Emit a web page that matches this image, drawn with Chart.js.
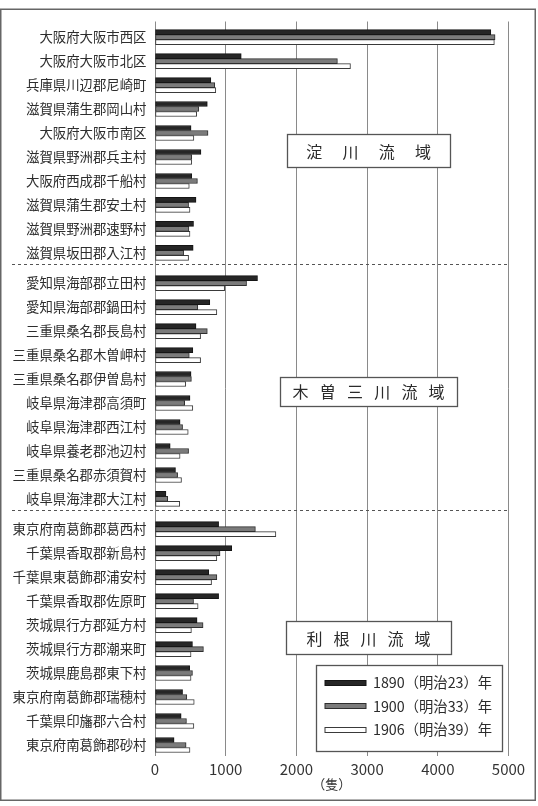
<!DOCTYPE html>
<html><head><meta charset="utf-8">
<script src="https://cdn.jsdelivr.net/npm/chart.js@4.4.1/dist/chart.umd.min.js"></script>
<style>html,body{margin:0;padding:0;background:#fff}#wrap{width:538px;height:806px;position:relative}</style>
</head><body><div id="wrap"><canvas id="c"></canvas></div>
<script>
const categories = [
  '大阪府大阪市西区','大阪府大阪市北区','兵庫県川辺郡尼崎町','滋賀県蒲生郡岡山村','大阪府大阪市南区',
  '滋賀県野洲郡兵主村','大阪府西成郡千船村','滋賀県蒲生郡安土村','滋賀県野洲郡速野村','滋賀県坂田郡入江村',
  '愛知県海部郡立田村','愛知県海部郡鍋田村','三重県桑名郡長島村','三重県桑名郡木曽岬村','三重県桑名郡伊曽島村',
  '岐阜県海津郡高須町','岐阜県海津郡西江村','岐阜県養老郡池辺村','三重県桑名郡赤須賀村','岐阜県海津郡大江村',
  '東京府南葛飾郡葛西村','千葉県香取郡新島村','千葉県東葛飾郡浦安村','千葉県香取郡佐原町','茨城県行方郡延方村',
  '茨城県行方郡潮来町','茨城県鹿島郡東下村','東京府南葛飾郡瑞穂村','千葉県印旛郡六合村','東京府南葛飾郡砂村'
];
const groupNames = ['淀川流域','木曽三川流域','利根川流域'];
const groupSizes = [10, 10, 10];
const seriesLabels = ['1890（明治23）年','1900（明治33）年','1906（明治39）年'];
const v1890 = [4750,1220,790,740,510,650,520,580,545,540, 1450,775,580,535,510,495,355,215,290,155, 900,1085,760,900,595,530,490,390,370,270];
const v1900 = [4810,2580,845,620,750,520,600,475,480,405, 1295,605,740,485,515,420,390,475,320,180, 1420,920,875,545,680,685,530,450,445,440];
const v1906 = [4800,2765,860,590,550,520,485,495,495,475, 985,875,645,645,435,535,470,355,375,350, 1710,875,800,610,515,510,510,555,550,495];
const xTicks = [0,1000,2000,3000,4000,5000];
const xUnit = '（隻）';

// layout constants
const GROUP_GAP = 0.26;
const CJK = "'Noto Sans CJK JP', sans-serif";
const NUMF = "'Liberation Sans Narrow', 'Noto Sans CJK JP', sans-serif";

// row positions on the index scale derived from group structure
const groupOf = [];
groupSizes.forEach((n, g) => { for (let k = 0; k < n; k++) groupOf.push(g); });
const rowPos = categories.map((_, i) => i + groupOf[i] * GROUP_GAP);
const groupRange = groupSizes.map((n, g) => {
  const idx = groupOf.map((gg, i) => gg === g ? i : -1).filter(i => i >= 0);
  return [idx[0], idx[idx.length - 1]];
});

const seriesValues = [v1890, v1900, v1906];
const fills = ['#262626', '#7b7b7b', '#ffffff'];
const borders = ['#151515', '#2e2e2e', '#3a3a3a'];

const datasets = seriesValues.map((vals, k) => ({
  label: seriesLabels[k],
  data: vals.map((v, i) => ({ x: v, y: rowPos[i] })),
  backgroundColor: fills[k],
  borderColor: borders[k],
  borderWidth: 1,
  barThickness: 5,
  borderSkipped: false
}));

const decor = {
  id: 'decor',
  beforeDatasetsDraw(chart) {
    const { ctx, chartArea, scales: { y } } = chart;
    ctx.save();
    ctx.strokeStyle = '#555';
    ctx.lineWidth = 1;
    ctx.setLineDash([3, 3]);
    for (let g = 0; g < groupRange.length - 1; g++) {
      const py = Math.round(y.getPixelForValue(rowPos[groupRange[g][1]] + 0.47)) + 0.5;
      ctx.beginPath();
      ctx.moveTo(12, py);
      ctx.lineTo(chartArea.right + 1, py);
      ctx.stroke();
    }
    ctx.restore();
  },
  afterDatasetsDraw(chart) {
    const { ctx, chartArea, scales: { x, y } } = chart;
    ctx.save();
    // region label boxes
    const boxW = [163, 177, 165], boxH = [33, 29, 33], spacing = [36.3, 27.2, 27], yAdj = [0.23, 0, 0.03];
    groupNames.forEach((name, g) => {
      const [a, b] = groupRange[g];
      const cy = y.getPixelForValue((rowPos[a] + rowPos[b]) / 2 + yAdj[g]);
      const cx = x.getPixelForValue(3000) + 1.5;
      const l = Math.round(cx - boxW[g] / 2) + 0.5, t = Math.round(cy - boxH[g] / 2) + 0.5;
      ctx.fillStyle = '#fff';
      ctx.fillRect(l, t, boxW[g], boxH[g]);
      ctx.strokeStyle = '#555';
      ctx.lineWidth = 1.3;
      ctx.strokeRect(l, t, boxW[g], boxH[g]);
      ctx.fillStyle = '#2b2b2b';
      ctx.font = '16px ' + CJK;
      ctx.textAlign = 'center';
      ctx.textBaseline = 'middle';
      const chars = Array.from(name);
      chars.forEach((ch, k) => {
        ctx.fillText(ch, cx + (k - (chars.length - 1) / 2) * spacing[g], cy + 1);
      });
    });
    // legend
    const lr = chartArea.right - 6.5, lb = chartArea.bottom - 5;
    const lw = 186, lh = 86;
    const ll = Math.round(lr - lw) + 0.5, lt = Math.round(lb - lh) + 0.5;
    ctx.fillStyle = '#fff';
    ctx.fillRect(ll, lt, lw, lh);
    ctx.strokeStyle = '#555';
    ctx.lineWidth = 1.3;
    ctx.strokeRect(ll, lt, lw, lh);
    chart.data.datasets.forEach((ds, k) => {
      const iy = lt + 17 + k * 23.5;
      ctx.fillStyle = ds.backgroundColor;
      ctx.strokeStyle = ds.borderColor;
      ctx.lineWidth = 1;
      ctx.fillRect(ll + 8.5, Math.round(iy - 3) + 0.5, 41, 5);
      ctx.strokeRect(ll + 8.5, Math.round(iy - 3) + 0.5, 41, 5);
      ctx.fillStyle = '#2b2b2b';
      ctx.font = '14.3px ' + NUMF;
      ctx.textAlign = 'left';
      ctx.textBaseline = 'middle';
      ctx.fillText(ds.label, ll + 56.5, iy + 0.5);
    });
    ctx.restore();
  },
  afterDraw(chart) {
    const { ctx } = chart;
    ctx.save();
    ctx.strokeStyle = '#666';
    ctx.lineWidth = 1.5;
    ctx.strokeRect(0.75, 9.25, 534.5, 791);
    ctx.restore();
  }
};

new Chart(document.getElementById('c'), {
  type: 'bar',
  data: { datasets },
  plugins: [decor],
  options: {
    indexAxis: 'y',
    responsive: true,
    maintainAspectRatio: false,
    animation: false,
    layout: { padding: { top: 21.5, right: 29.5, bottom: 0, left: 0 } },
    plugins: { legend: { display: false }, tooltip: { enabled: false } },
    scales: {
      x: {
        type: 'linear',
        position: 'bottom',
        min: 0, max: 5000,
        afterBuildTicks: s => { s.ticks = xTicks.map(v => ({ value: v })); },
        afterFit: s => { s.height = 50; },
        grid: { display: true, color: '#8a8a8a', lineWidth: 1, drawTicks: false },
        border: { display: false },
        ticks: { padding: 4, color: '#333', font: { family: NUMF, size: 15 }, callback: v => String(v) },
        title: { display: true, text: xUnit, color: '#333', font: { family: CJK, size: 13 }, padding: { top: 0, bottom: 14 } }
      },
      y: {
        type: 'linear',
        reverse: true,
        offset: false,
        min: -0.65,
        max: rowPos[rowPos.length - 1] + 0.46,
        afterBuildTicks: s => { s.ticks = rowPos.map(v => ({ value: v })); },
        afterFit: s => { s.width = 155; },
        grid: { display: false, drawTicks: false, offset: false },
        border: { display: false },
        ticks: { autoSkip: false, padding: 8.5, color: '#2e2e2e', font: { family: CJK, size: 13.4 },
          callback: (v, i) => categories[i] }
      }
    }
  }
});
</script>
</body></html>
